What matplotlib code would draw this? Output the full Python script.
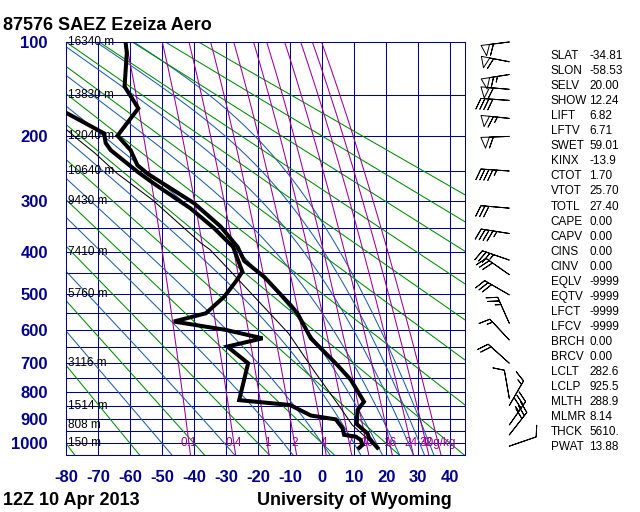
import numpy as np
import matplotlib
matplotlib.use("Agg")
import matplotlib.pyplot as plt

K = 0.286  # Stuve: y ~ p**kappa

# --- sounding values (p in hPa, T in degC) ---
temp_p = [100, 109, 141, 165, 199, 219, 241, 254, 304, 348, 390, 421, 458, 530,
          552, 624, 708, 758, 836, 867, 921, 959, 979, 1019]
temp_t = [-61.4, -61.0, -61.7, -57.4, -63.9, -59.8, -57.7, -54.6, -40.0, -31.7,
          -26.4, -24.3, -18.1, -9.8, -7.7, -3.5, 4.8, 9.0, 13.1, 11.1, 10.8,
          14.2, 14.7, 17.3]

dewp_p = [170, 196, 209, 219, 251, 270, 313, 351, 390, 446, 470, 508, 552, 575,
          599, 624, 649, 702, 830, 848, 888, 903, 938, 965, 972, 986, 1007, 1019]
dewp_t = [-80.1, -68.1, -67.6, -66.0, -57.7, -52.6, -41.2, -33.8, -27.8, -24.9,
          -27.0, -30.6, -36.3, -46.3, -30.1, -18.6, -29.6, -23.1, -25.9, -10.0,
          -3.5, 4.3, 6.4, 6.9, 10.5, 12.1, 12.6, 11.6]

parcel_p = [187, 205, 223, 254, 298, 381, 396, 466, 609, 735, 854, 925.5, 1019]
parcel_t = [-81.0, -76.0, -71.0, -64.0, -53.0, -38.0, -35.0, -26.0, -10.5, -2.0,
            5.5, 9.45, 17.3]

# height labels on the left
hgt_p = [100, 150, 200, 250, 300, 400, 500, 700, 850, 925, 1000]
hgt_txt = ["16340 m", "13830 m", "12040 m", "10640 m", "9430 m", "7410 m",
           "5760 m", "3116 m", "1514 m", "808 m", "150 m"]

# background lines
dry_theta = list(range(-80, 181, 20))                 # degC at 1000 hPa
moist_t1000 = [-50, -30.5, -12, 0, 10, 17, 22.5, 27, 30.5, 33.5]
mix_w = [0.1, 0.4, 1, 2, 4, 7, 10, 16, 24, 32, 40]      # g/kg
mix_lbl = ["0.1", "0.4", "1", "2", "4", "7", "10", "16", "24", "32", "40g/kg"]

# winds (hPa, direction deg, speed kt)
wind_p = [100, 117, 129, 144, 156, 177, 200, 250, 313, 362, 419, 453, 503, 580,
          629, 702, 823, 850, 925, 965, 1012]
wind_dir = [263, 281, 261, 275, 274, 276, 268, 274, 275, 279, 289, 305, 300, 336,
            317, 312, 350, 30, 35, 38, 71]
wind_spd = [60, 60, 65, 60, 40, 65, 60, 45, 30, 45, 35, 30, 30, 25,
            15, 20, 10, 15, 35, 30, 10]

# station indices
idx_names = ["SLAT", "SLON", "SELV", "SHOW", "LIFT", "LFTV", "SWET", "KINX", "CTOT",
             "VTOT", "TOTL", "CAPE", "CAPV", "CINS", "CINV", "EQLV", "EQTV", "LFCT",
             "LFCV", "BRCH", "BRCV", "LCLT", "LCLP", "MLTH", "MLMR", "THCK", "PWAT"]
idx_vals = ["-34.81", "-58.53", "20.00", "12.24", "6.82", "6.71", "59.01", "-13.9",
            "1.70", "25.70", "27.40", "0.00", "0.00", "0.00", "0.00", "-9999",
            "-9999", "-9999", "-9999", "0.00", "0.00", "282.6", "925.5", "288.9",
            "8.14", "5610.", "13.88"]

NAVY = "#00008b"
GREEN = "#008c00"
BLUE = "#1e5fa8"
PURPLE = "#990099"
FONT = "Liberation Sans"


def fwd(p):
    p = np.asarray(p, dtype=float)
    return np.sign(p) * np.abs(p) ** K


def inv(y):
    y = np.asarray(y, dtype=float)
    return np.sign(y) * np.abs(y) ** (1.0 / K)


def sat_mix(T, p):
    es = 6.112 * np.exp(17.67 * (T - 273.15) / (T - 29.65))
    return 0.622 * es / (p - es)


def moist_dtdp(T, p):
    rs = sat_mix(T, p)
    Lv, Rd, cp = 2.501e6, 287.04, 1005.7
    return (Rd * T + Lv * rs) / (p * (cp + Lv * Lv * rs * 0.622 / (Rd * T * T)))


def moist_lines(t1000):
    # integrate pseudo-adiabats up and down from 1000 hPa (RK4)
    T0 = np.array(t1000) + 273.15
    out = []
    for p_end in (100.0, 1050.0):
        ps = np.linspace(1000.0, p_end, 400)
        T = T0.copy()
        rows = [T.copy()]
        for a, b in zip(ps[:-1], ps[1:]):
            h = b - a
            k1 = moist_dtdp(T, a)
            k2 = moist_dtdp(T + 0.5 * h * k1, a + 0.5 * h)
            k3 = moist_dtdp(T + 0.5 * h * k2, a + 0.5 * h)
            k4 = moist_dtdp(T + h * k3, b)
            T = T + h * (k1 + 2 * k2 + 2 * k3 + k4) / 6
            rows.append(T.copy())
        out.append((ps, np.array(rows) - 273.15))
    return out


fig = plt.figure(figsize=(6.4, 5.12), dpi=100)
L, B, W, H = 66 / 640, 1 - 455 / 512, 398.5 / 640, 413 / 512
ax = fig.add_axes([L, B, W, H])
ax.set_yscale("function", functions=(fwd, inv))
ax.set_ylim(1050, 100)
ax.set_xlim(-80, 44.5)

lw = 0.75
# grid
for t in range(-70, 41, 10):
    ax.axvline(t, color=NAVY, lw=lw, zorder=1)
for p in range(150, 1051, 50):
    ax.axhline(p, color=NAVY, lw=lw, zorder=1)

pp = np.linspace(1050, 100, 300)
for th in dry_theta:
    ax.plot((th + 273.15) * (pp / 1000.0) ** K - 273.15, pp, color=GREEN, lw=lw, zorder=1.2)

for ps, Ts in moist_lines(moist_t1000):
    for j in range(Ts.shape[1]):
        ax.plot(Ts[:, j], ps, color=BLUE, lw=lw, zorder=1.1)

for w in mix_w:
    e = pp * w / (622.0 + w)
    lnr = np.log(e / 6.112)
    ax.plot(243.5 * lnr / (17.67 - lnr), pp, color=PURPLE, lw=lw, zorder=1.3)

# mixing ratio labels on the 1000 hPa line
for w, s in zip(mix_w, mix_lbl):
    e = 1000.0 * w / (622.0 + w)
    lnr = np.log(e / 6.112)
    ax.text(243.5 * lnr / (17.67 - lnr), 1000, s, color=PURPLE, fontsize=8.5,
            family=FONT, ha="center", va="center", zorder=2)

# height labels
for p, s in zip(hgt_p, hgt_txt):
    ax.text(-79.4, p, s, fontsize=8.5, family=FONT, ha="left", va="center", zorder=2)

# profiles
ax.plot(parcel_t, parcel_p, color="black", lw=0.75, zorder=3)
ax.plot(temp_t, temp_p, color="black", lw=2.9, zorder=4, solid_joinstyle="miter")
ax.plot(dewp_t, dewp_p, color="black", lw=2.9, zorder=4, solid_joinstyle="miter")

for s in ax.spines.values():
    s.set_color(NAVY)
    s.set_linewidth(lw)
ax.set_xticks(range(-80, 41, 10))
ax.set_xticklabels([str(t) for t in range(-80, 41, 10)])
ax.set_yticks(range(100, 1001, 100))
ax.set_yticklabels([str(p) for p in range(100, 1001, 100)])
ax.yaxis.set_minor_locator(matplotlib.ticker.NullLocator())
ax.tick_params(length=0, labelcolor=NAVY, labelsize=12)
ax.tick_params(axis="x", pad=11)
ax.tick_params(axis="y", pad=13)
for lab in ax.get_xticklabels() + ax.get_yticklabels():
    lab.set_fontfamily(FONT)
    lab.set_fontweight("bold")

# wind barbs in a strip to the right
bx = fig.add_axes([466 / 640, B, 94 / 640, H])
bx.set_yscale("function", functions=(fwd, inv))
bx.set_ylim(1050, 100)
bx.set_xlim(0, 94)
bx.axis("off")
d = np.radians(wind_dir)
u = -np.array(wind_spd) * np.sin(d)
v = -np.array(wind_spd) * np.cos(d)
bx.barbs(np.full(len(wind_p), 43.3), wind_p, u, v, length=6.4, flip_barb=True,
         facecolor="none", edgecolor="black", linewidth=0.7,
         sizes=dict(spacing=0.14, height=0.38, width=0.3), clip_on=False)

# titles
fig.text(3 / 640, 1 - 30 / 512, "87576 SAEZ Ezeiza Aero", fontsize=13,
         fontweight="bold", family=FONT, ha="left", va="baseline")
fig.text(3 / 640, 1 - 505 / 512, "12Z 10 Apr 2013", fontsize=13,
         fontweight="bold", family=FONT, ha="left", va="baseline")
fig.text(452 / 640, 1 - 505 / 512, "University of Wyoming", fontsize=13,
         fontweight="bold", family=FONT, ha="right", va="baseline")

# station index table
for i, (n, val) in enumerate(zip(idx_names, idx_vals)):
    y = 1 - (56 + i * 15.05) / 512
    fig.text(550.5 / 640, y, n, fontsize=8.5, family=FONT, va="center")
    fig.text(589 / 640, y, val, fontsize=8.5, family=FONT, va="center")

fig.savefig("out.png", dpi=100)
